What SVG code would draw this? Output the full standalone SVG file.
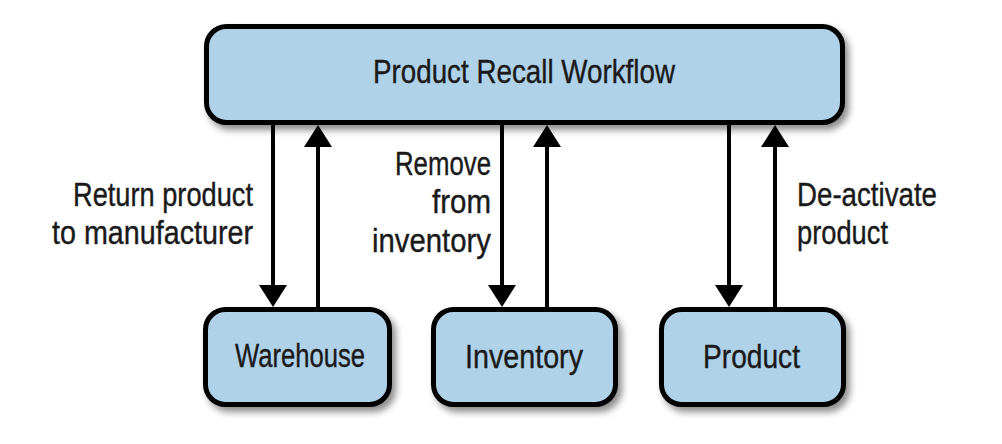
<svg xmlns="http://www.w3.org/2000/svg" width="1002" height="444" viewBox="0 0 1002 444">
<style>
.box{fill:#afd2e9;stroke:#000;stroke-width:5;filter:url(#sh)}
.t{font-family:"Liberation Sans",Arial,sans-serif;font-size:34px;fill:#1a1a1a;stroke:#1a1a1a;stroke-width:0.4}
.ln{stroke:#000;stroke-width:4;fill:none}
</style>
<defs>
<filter id="sh" x="-10%" y="-10%" width="130%" height="140%">
<feDropShadow dx="4" dy="5" stdDeviation="3.5" flood-color="#000" flood-opacity="0.45"/>
</filter>
<marker id="ah" viewBox="0 0 22 28" refX="10" refY="14" markerWidth="22" markerHeight="28" markerUnits="userSpaceOnUse" orient="auto">
<path d="M0,0 L22,14 L0,28 z" fill="#000"/>
</marker>
</defs>
<rect width="1002" height="444" fill="#fff"/>
<g id="connectors">
<line class="ln" x1="273" y1="125" x2="273" y2="295" marker-end="url(#ah)"/>
<line class="ln" x1="318" y1="307" x2="318" y2="137" marker-end="url(#ah)"/>
<line class="ln" x1="502" y1="125" x2="502" y2="295" marker-end="url(#ah)"/>
<line class="ln" x1="547" y1="307" x2="547" y2="137" marker-end="url(#ah)"/>
<line class="ln" x1="729" y1="125" x2="729" y2="295" marker-end="url(#ah)"/>
<line class="ln" x1="775" y1="307" x2="775" y2="137" marker-end="url(#ah)"/>
<text class="t" x="73" y="206" textLength="180" lengthAdjust="spacingAndGlyphs">Return product</text>
<text class="t" x="52" y="244" textLength="201" lengthAdjust="spacingAndGlyphs">to manufacturer</text>
<text class="t" x="395" y="175" textLength="96" lengthAdjust="spacingAndGlyphs">Remove</text>
<text class="t" x="432" y="213" textLength="59" lengthAdjust="spacingAndGlyphs">from</text>
<text class="t" x="372" y="252" textLength="119" lengthAdjust="spacingAndGlyphs">inventory</text>
<text class="t" x="797" y="206" textLength="140" lengthAdjust="spacingAndGlyphs">De-activate</text>
<text class="t" x="797" y="244" textLength="91" lengthAdjust="spacingAndGlyphs">product</text>
</g>
<g id="workflow">
<rect class="box" x="206.5" y="26.5" width="636" height="96" rx="20"/>
<text class="t" x="373" y="83" textLength="302" lengthAdjust="spacingAndGlyphs">Product Recall Workflow</text>
</g>
<g id="warehouse">
<rect class="box" x="205.5" y="309.5" width="184" height="95" rx="20"/>
<text class="t" x="235" y="367" textLength="130" lengthAdjust="spacingAndGlyphs">Warehouse</text>
</g>
<g id="inventory">
<rect class="box" x="433.5" y="309.5" width="182" height="95" rx="20"/>
<text class="t" x="465" y="368" textLength="118" lengthAdjust="spacingAndGlyphs">Inventory</text>
</g>
<g id="product">
<rect class="box" x="661.5" y="309.5" width="182" height="95" rx="20"/>
<text class="t" x="703" y="368" textLength="97" lengthAdjust="spacingAndGlyphs">Product</text>
</g>
</svg>
